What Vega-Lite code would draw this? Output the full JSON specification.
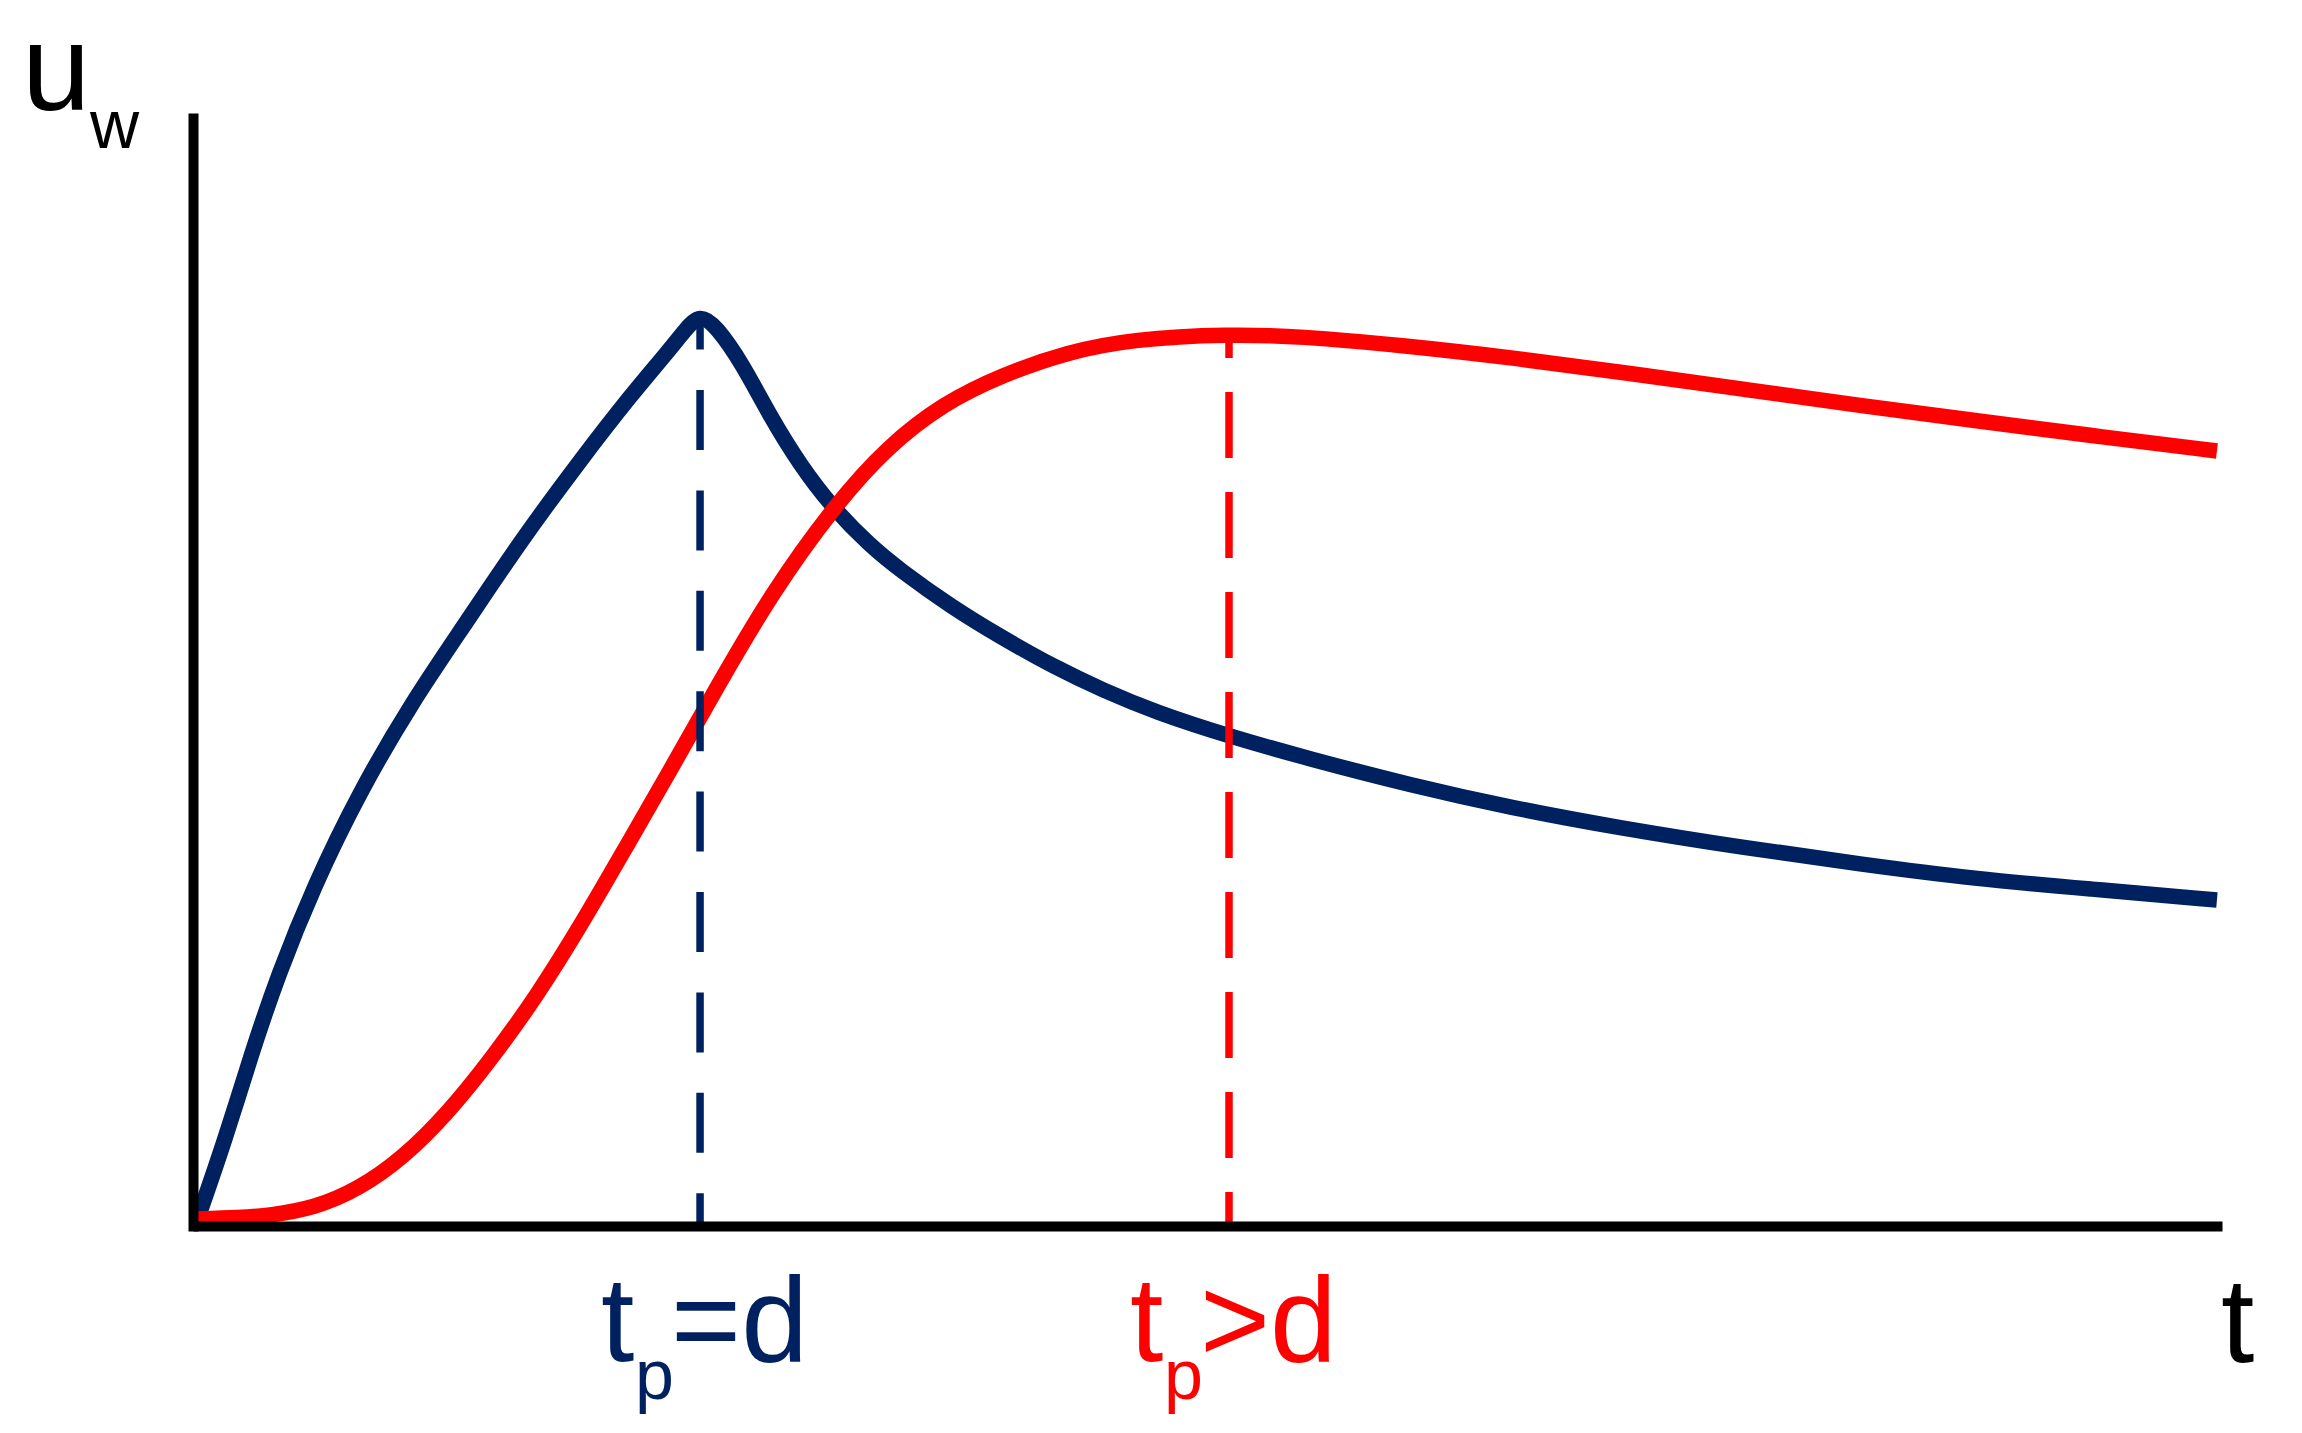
{
  "$schema": "https://vega.github.io/schema/vega-lite/v6.json",
  "autosize": {"type": "none"},
  "width": 2029,
  "height": 1108,
  "padding": {"left": 193, "top": 118, "right": 80, "bottom": 207},
  "background": "white",
  "config": {"view": {"stroke": null}},
  "datasets": {
    "curves": [
      {"series": "tp=d", "t": 0.2, "u": 0.5},
      {"series": "tp=d", "t": 1.58, "u": 7.76},
      {"series": "tp=d", "t": 2.86, "u": 15.43},
      {"series": "tp=d", "t": 4.19, "u": 22.65},
      {"series": "tp=d", "t": 5.96, "u": 30.69},
      {"series": "tp=d", "t": 8.18, "u": 39.08},
      {"series": "tp=d", "t": 10.79, "u": 47.29},
      {"series": "tp=d", "t": 13.45, "u": 54.42},
      {"series": "tp=d", "t": 16.07, "u": 61.64},
      {"series": "tp=d", "t": 19.17, "u": 69.31},
      {"series": "tp=d", "t": 21.59, "u": 75.0},
      {"series": "tp=d", "t": 23.36, "u": 78.8},
      {"series": "tp=d", "t": 24.3, "u": 81.0},
      {"series": "tp=d", "t": 24.99, "u": 82.3},
      {"series": "tp=d", "t": 25.78, "u": 81.23},
      {"series": "tp=d", "t": 27.06, "u": 77.89},
      {"series": "tp=d", "t": 28.49, "u": 72.92},
      {"series": "tp=d", "t": 29.92, "u": 68.7},
      {"series": "tp=d", "t": 31.49, "u": 64.9},
      {"series": "tp=d", "t": 33.37, "u": 61.4},
      {"series": "tp=d", "t": 34.85, "u": 59.2},
      {"series": "tp=d", "t": 37.36, "u": 55.9},
      {"series": "tp=d", "t": 39.87, "u": 53.1},
      {"series": "tp=d", "t": 42.39, "u": 50.5},
      {"series": "tp=d", "t": 44.9, "u": 48.3},
      {"series": "tp=d", "t": 47.41, "u": 46.4},
      {"series": "tp=d", "t": 51.06, "u": 44.2},
      {"series": "tp=d", "t": 54.95, "u": 42.2},
      {"series": "tp=d", "t": 59.98, "u": 39.8},
      {"series": "tp=d", "t": 65.01, "u": 37.73},
      {"series": "tp=d", "t": 70.03, "u": 36.01},
      {"series": "tp=d", "t": 76.49, "u": 34.12},
      {"series": "tp=d", "t": 82.16, "u": 32.67},
      {"series": "tp=d", "t": 87.83, "u": 31.32},
      {"series": "tp=d", "t": 93.49, "u": 30.42},
      {"series": "tp=d", "t": 99.75, "u": 29.42},
      {"series": "tp>d", "t": 0, "u": 0.63},
      {"series": "tp>d", "t": 2.32, "u": 0.75},
      {"series": "tp>d", "t": 3.76, "u": 0.95},
      {"series": "tp>d", "t": 5.96, "u": 1.6},
      {"series": "tp>d", "t": 8.18, "u": 3.34},
      {"series": "tp>d", "t": 10.35, "u": 6.14},
      {"series": "tp>d", "t": 12.57, "u": 10.2},
      {"series": "tp>d", "t": 14.74, "u": 15.16},
      {"series": "tp>d", "t": 16.95, "u": 20.76},
      {"series": "tp>d", "t": 19.17, "u": 27.3},
      {"series": "tp>d", "t": 21.34, "u": 34.2},
      {"series": "tp>d", "t": 23.56, "u": 41.25},
      {"series": "tp>d", "t": 25.78, "u": 48.5},
      {"series": "tp>d", "t": 28.54, "u": 57.2},
      {"series": "tp>d", "t": 31.64, "u": 65.07},
      {"series": "tp>d", "t": 34.2, "u": 70.31},
      {"series": "tp>d", "t": 37.01, "u": 74.28},
      {"series": "tp>d", "t": 39.87, "u": 76.8},
      {"series": "tp>d", "t": 43.08, "u": 78.88},
      {"series": "tp>d", "t": 46.33, "u": 80.05},
      {"series": "tp>d", "t": 51.06, "u": 80.5},
      {"series": "tp>d", "t": 54.56, "u": 80.3},
      {"series": "tp>d", "t": 59.49, "u": 79.51},
      {"series": "tp>d", "t": 65.16, "u": 78.34},
      {"series": "tp>d", "t": 70.82, "u": 76.95},
      {"series": "tp>d", "t": 76.49, "u": 75.5},
      {"series": "tp>d", "t": 82.16, "u": 74.05},
      {"series": "tp>d", "t": 87.83, "u": 72.7},
      {"series": "tp>d", "t": 93.49, "u": 71.35},
      {"series": "tp>d", "t": 99.75, "u": 69.95}
    ],
    "markers": [
      {"series": "tp=d", "t": 24.99, "u": 81.95, "rel": "=d"},
      {"series": "tp>d", "t": 51.06, "u": 80.42, "rel": ">d"}
    ]
  },
  "layer": [
    {
      "data": {"name": "curves"},
      "transform": [{"filter": "datum.series === 'tp=d'"}],
      "mark": {"type": "line", "strokeWidth": 15.5, "interpolate": "basis", "strokeJoin": "round", "color": "#00215F"},
      "encoding": {
        "x": {"field": "t", "type": "quantitative", "scale": {"domain": [0, 100], "nice": false},
              "axis": {"domain": true, "domainColor": "black", "domainWidth": 10, "domainCap": "butt", "ticks": false, "labels": false, "grid": false, "title": null, "zindex": 1}},
        "y": {"field": "u", "type": "quantitative", "scale": {"domain": [0, 100], "nice": false},
              "axis": {"domain": true, "domainColor": "black", "domainWidth": 10, "domainCap": "square", "ticks": false, "labels": false, "grid": false, "title": null, "zindex": 1}}
      }
    },
    {
      "data": {"name": "curves"},
      "transform": [{"filter": "datum.series === 'tp>d'"}],
      "mark": {"type": "line", "strokeWidth": 15.5, "interpolate": "basis", "strokeJoin": "round", "color": "#FF0000"},
      "encoding": {
        "x": {"field": "t", "type": "quantitative"},
        "y": {"field": "u", "type": "quantitative"}
      }
    },
    {
      "data": {"name": "markers"},
      "transform": [{"filter": "datum.series === 'tp=d'"}],
      "mark": {"type": "rule", "strokeWidth": 7.5, "strokeDash": [60, 40.4], "strokeDashOffset": 28.4, "color": "#00215F"},
      "encoding": {
        "x": {"field": "t", "type": "quantitative"},
        "y": {"field": "u", "type": "quantitative"},
        "y2": {"datum": 0}
      }
    },
    {
      "data": {"name": "markers"},
      "transform": [{"filter": "datum.series === 'tp>d'"}],
      "mark": {"type": "rule", "strokeWidth": 7.5, "strokeDash": [66, 34], "strokeDashOffset": 43, "color": "#FF0000"},
      "encoding": {
        "x": {"field": "t", "type": "quantitative"},
        "y": {"field": "u", "type": "quantitative"},
        "y2": {"datum": 0}
      }
    },
    {
      "data": {"name": "markers"},
      "mark": {"type": "text", "text": "t", "font": "Liberation Sans", "fontSize": 120, "align": "left", "baseline": "alphabetic", "dx": -99, "dy": 135},
      "encoding": {
        "x": {"field": "t", "type": "quantitative"},
        "y": {"datum": 0},
        "color": {"field": "series", "type": "nominal", "scale": {"domain": ["tp=d", "tp>d"], "range": ["#00215F", "#FF0000"]}, "legend": null}
      }
    },
    {
      "data": {"name": "markers"},
      "mark": {"type": "text", "text": "p", "font": "Liberation Sans", "fontSize": 70, "align": "left", "baseline": "alphabetic", "dx": -65, "dy": 173},
      "encoding": {
        "x": {"field": "t", "type": "quantitative"},
        "y": {"datum": 0},
        "color": {"field": "series", "type": "nominal", "legend": null}
      }
    },
    {
      "data": {"name": "markers"},
      "mark": {"type": "text", "font": "Liberation Sans", "fontSize": 120, "align": "left", "baseline": "alphabetic", "dx": -29, "dy": 135},
      "encoding": {
        "x": {"field": "t", "type": "quantitative"},
        "y": {"datum": 0},
        "text": {"field": "rel"},
        "color": {"field": "series", "type": "nominal", "legend": null}
      }
    },
    {
      "data": {"values": [{}]},
      "mark": {"type": "text", "text": "u", "font": "Liberation Sans", "fontSize": 123, "align": "left", "baseline": "alphabetic", "dx": -171, "dy": -8, "color": "black"},
      "encoding": {"x": {"datum": 0}, "y": {"datum": 100}}
    },
    {
      "data": {"values": [{}]},
      "mark": {"type": "text", "text": "w", "font": "Liberation Sans", "fontSize": 68, "align": "left", "baseline": "alphabetic", "dx": -103, "dy": 30, "color": "black"},
      "encoding": {"x": {"datum": 0}, "y": {"datum": 100}}
    },
    {
      "data": {"values": [{}]},
      "mark": {"type": "text", "text": "t", "font": "Liberation Sans", "fontSize": 120, "align": "left", "baseline": "alphabetic", "dx": -1, "dy": 136, "color": "black"},
      "encoding": {"x": {"datum": 100}, "y": {"datum": 0}}
    }
  ]
}
